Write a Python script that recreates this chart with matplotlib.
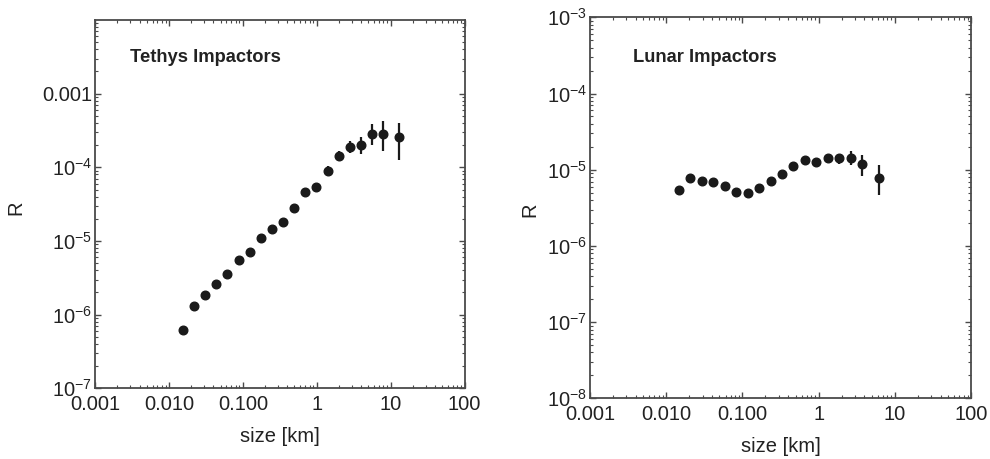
import numpy as np
import matplotlib
matplotlib.use("Agg")
import matplotlib.pyplot as plt
from matplotlib.ticker import LogLocator, NullFormatter

plt.rcParams['font.family'] = ['Liberation Sans', 'DejaVu Sans']
plt.rcParams['mathtext.fontset'] = 'custom'
plt.rcParams['mathtext.rm'] = 'Liberation Sans'
plt.rcParams['mathtext.it'] = 'Liberation Sans:italic'
plt.rcParams['mathtext.bf'] = 'Liberation Sans:bold'

# -------------------------------
# DATA
# -------------------------------
# Tethys impactors: size [km], ratio R, error bar bounds
tethys_size = [0.0155, 0.0219, 0.031, 0.0438, 0.062, 0.0876, 0.124, 0.175, 0.248, 0.35,
               0.496, 0.701, 0.991, 1.40, 1.98, 2.80, 3.97, 5.6, 7.9, 13.1]
tethys_R = [6.1e-7, 1.32e-6, 1.83e-6, 2.64e-6, 3.6e-6, 5.57e-6, 7.15e-6, 1.09e-5, 1.45e-5, 1.81e-5,
            2.84e-5, 4.67e-5, 5.46e-5, 9.0e-5, 1.42e-4, 1.90e-4, 2.02e-4, 2.85e-4, 2.85e-4, 2.55e-4]
tethys_lo = [6.1e-7, 1.32e-6, 1.83e-6, 2.64e-6, 3.6e-6, 5.57e-6, 7.15e-6, 1.09e-5, 1.45e-5, 1.81e-5,
             2.84e-5, 4.67e-5, 5.0e-5, 7.8e-5, 1.23e-4, 1.58e-4, 1.51e-4, 2.0e-4, 1.68e-4, 1.26e-4]
tethys_hi = [6.1e-7, 1.32e-6, 1.83e-6, 2.64e-6, 3.6e-6, 5.57e-6, 7.15e-6, 1.09e-5, 1.45e-5, 1.81e-5,
             2.84e-5, 4.67e-5, 6.0e-5, 1.05e-4, 1.68e-4, 2.29e-4, 2.59e-4, 3.82e-4, 4.23e-4, 4.02e-4]

# Lunar impactors
lunar_size = [0.0146, 0.0206, 0.0292, 0.0413, 0.0584, 0.0826, 0.117, 0.165, 0.234, 0.330,
              0.467, 0.661, 0.934, 1.32, 1.87, 2.64, 3.74, 6.15]
lunar_R = [5.47e-6, 7.78e-6, 7.02e-6, 6.90e-6, 6.16e-6, 5.14e-6, 4.94e-6, 5.69e-6, 7.02e-6, 8.68e-6,
           1.13e-5, 1.35e-5, 1.26e-5, 1.41e-5, 1.41e-5, 1.42e-5, 1.19e-5, 7.85e-6]
lunar_lo = [5.47e-6, 7.78e-6, 7.02e-6, 6.90e-6, 6.16e-6, 5.14e-6, 4.94e-6, 5.69e-6, 7.02e-6, 8.68e-6,
            1.13e-5, 1.35e-5, 1.26e-5, 1.32e-5, 1.20e-5, 1.16e-5, 8.34e-6, 4.60e-6]
lunar_hi = [5.47e-6, 7.78e-6, 7.02e-6, 6.90e-6, 6.16e-6, 5.14e-6, 4.94e-6, 5.69e-6, 7.02e-6, 8.68e-6,
            1.13e-5, 1.35e-5, 1.26e-5, 1.50e-5, 1.62e-5, 1.74e-5, 1.57e-5, 1.16e-5]

x_ticks = [0.001, 0.01, 0.1, 1, 10, 100]
x_labels = ["0.001", "0.010", "0.100", "1", "10", "100"]

tethys_yticks = [1e-7, 1e-6, 1e-5, 1e-4, 1e-3]
tethys_ylabels = [r"$\mathregular{10^{-7}}$", r"$\mathregular{10^{-6}}$", r"$\mathregular{10^{-5}}$",
                  r"$\mathregular{10^{-4}}$", "0.001"]
lunar_yticks = [1e-8, 1e-7, 1e-6, 1e-5, 1e-4, 1e-3]
lunar_ylabels = [r"$\mathregular{10^{-8}}$", r"$\mathregular{10^{-7}}$", r"$\mathregular{10^{-6}}$",
                 r"$\mathregular{10^{-5}}$", r"$\mathregular{10^{-4}}$", r"$\mathregular{10^{-3}}$"]

# -------------------------------
# FIGURE
# -------------------------------
fig = plt.figure(figsize=(9.9, 4.59), dpi=100)
ax1 = fig.add_axes([0.0960, 0.1540, 0.3732, 0.8024])
ax2 = fig.add_axes([0.5960, 0.1322, 0.3848, 0.8301])

frame_color = '#4a4a4a'
text_color = '#222222'


def draw_panel(ax, size, R, lo, hi, ylim, yticks, ylabels, title, title_pos, ylab_pos, xlab_pos):
    R = np.array(R)
    yerr = [R - np.array(lo), np.array(hi) - R]
    ax.errorbar(size, R, yerr=yerr, fmt='o', color='#1a1a1a', markersize=6.2,
                elinewidth=1.6, capsize=0, zorder=3)
    ax.set_xscale('log')
    ax.set_yscale('log')
    ax.set_xlim(1e-3, 100)
    ax.set_ylim(*ylim)

    ax.set_xticks(x_ticks)
    ax.set_xticklabels(x_labels)
    ax.set_yticks(yticks)
    ax.set_yticklabels(ylabels)
    ax.xaxis.set_minor_locator(LogLocator(base=10, subs=np.arange(2, 10)))
    ax.yaxis.set_minor_locator(LogLocator(base=10, subs=np.arange(2, 10)))
    ax.xaxis.set_minor_formatter(NullFormatter())
    ax.yaxis.set_minor_formatter(NullFormatter())

    ax.tick_params(which='both', direction='in', top=True, right=True, colors=frame_color,
                   labelcolor=text_color, labelsize=14.5)
    ax.tick_params(which='major', length=4, width=1.0)
    ax.tick_params(which='minor', length=2, width=0.8)
    ax.tick_params(axis='y', pad=2)
    ax.tick_params(axis='x', pad=5)
    for sp in ax.spines.values():
        sp.set_color(frame_color)
        sp.set_linewidth(1.3)

    ax.set_xlabel("size [km]", fontsize=14.5, color=text_color)
    ax.set_ylabel("R", fontsize=14.5, color=text_color)
    ax.xaxis.set_label_coords(*xlab_pos)
    ax.yaxis.set_label_coords(*ylab_pos)

    ax.text(title_pos[0], title_pos[1], title, transform=ax.transAxes, fontsize=13.2,
            fontweight='bold', color=text_color, va='baseline', ha='left')


draw_panel(ax1, tethys_size, tethys_R, tethys_lo, tethys_hi, (1e-7, 1e-2),
           tethys_yticks, tethys_ylabels, "Tethys Impactors", (0.095, 0.886),
           (-0.189, 0.49), (0.5, -0.105))
draw_panel(ax2, lunar_size, lunar_R, lunar_lo, lunar_hi, (1e-8, 1e-3),
           lunar_yticks, lunar_ylabels, "Lunar Impactors", (0.114, 0.882),
           (-0.134, 0.494), (0.5, -0.102))

fig.savefig("out.png", dpi=100)
